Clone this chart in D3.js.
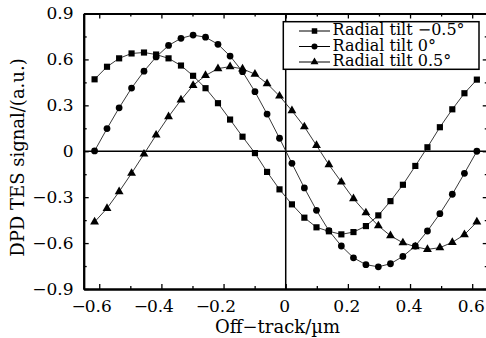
<!DOCTYPE html>
<html><head><meta charset="utf-8">
<script src="https://cdn.jsdelivr.net/npm/d3@7"></script>
<style>
html,body{margin:0;padding:0;background:#fff;}
svg{display:block;}
text{font-family:"DejaVu Serif",serif;fill:#000;}
</style></head>
<body><svg id="c" width="486" height="338"></svg>
<script>
// ---- data ----
const offTrack = [-0.615,-0.575,-0.536,-0.496,-0.456,-0.417,-0.377,-0.337,-0.298,-0.258,-0.218,-0.179,-0.139,-0.099,-0.060,-0.020,
                   0.020, 0.060, 0.099, 0.139, 0.179, 0.218, 0.258, 0.298, 0.337, 0.377, 0.417, 0.456, 0.496, 0.536, 0.575, 0.615];
const tiltNeg05 = [0.470,0.552,0.607,0.639,0.645,0.632,0.607,0.560,0.493,0.412,0.314,0.207,0.095,-0.012,-0.135,-0.249,
                   -0.347,-0.434,-0.497,-0.523,-0.543,-0.528,-0.489,-0.419,-0.326,-0.219,-0.096,0.026,0.157,0.274,0.379,0.468];
const tilt0 = [0.002,0.148,0.284,0.413,0.523,0.616,0.691,0.738,0.759,0.745,0.699,0.622,0.520,0.389,0.243,0.085,
               -0.079,-0.240,-0.386,-0.519,-0.619,-0.696,-0.741,-0.755,-0.735,-0.687,-0.619,-0.521,-0.408,-0.281,-0.144,0.000];
const tiltPos05 = [-0.462,-0.373,-0.264,-0.144,-0.018,0.106,0.226,0.335,0.430,0.495,0.540,0.553,0.538,0.504,0.442,0.361,
                   0.265,0.160,0.038,-0.088,-0.201,-0.310,-0.402,-0.487,-0.552,-0.598,-0.624,-0.641,-0.630,-0.595,-0.545,-0.462];
const seriesNames = ["Radial tilt \u22120.5\u00b0","Radial tilt 0\u00b0","Radial tilt 0.5\u00b0"];
const seriesSymbols = ["square","circle","triangle"];
const xTicks = [-0.6,-0.4,-0.2,0,0.2,0.4,0.6];
const xMinor = [-0.5,-0.3,-0.1,0.1,0.3,0.5];
const yTicks = [-0.9,-0.6,-0.3,0,0.3,0.6,0.9];
const yMinor = [-0.75,-0.45,-0.15,0.15,0.45,0.75];
const xTitle = "Off\u2212track/\u00b5m";
const yTitle = "DPD TES signal/(a.u.)";

// ---- layout ----
const svg = d3.select("#c");
const L = 83.7, T = 13.5, B = 289;
const x = d3.scaleLinear().domain([-0.65,0.65]).range([L, L + 1.3*310.8]);
const y = d3.scaleLinear().domain([-0.9,0.9]).range([B, T]);
const R = x(0.65);

const fmt = v => (v===0 ? "0" : d3.format(".1f")(v).replace("-","\u2212"));

// zero lines
svg.append("line").attr("x1",L).attr("x2",R).attr("y1",y(0)).attr("y2",y(0))
  .attr("stroke","#000").attr("stroke-width",1.5);
svg.append("line").attr("x1",x(0)).attr("x2",x(0)).attr("y1",T).attr("y2",B)
  .attr("stroke","#000").attr("stroke-width",1.5);

function styleAxis(g){
  g.select(".domain").attr("stroke","#000").attr("stroke-width",2);
  g.selectAll(".tick line").attr("stroke","#000").attr("stroke-width",1.3);
}
// minor ticks
svg.append("g").attr("transform",`translate(0,${B})`).call(d3.axisBottom(x).tickValues(xMinor).tickSize(-3).tickSizeOuter(0).tickFormat("")).call(styleAxis);
svg.append("g").attr("transform",`translate(0,${T})`).call(d3.axisTop(x).tickValues(xMinor).tickSize(-3).tickSizeOuter(0).tickFormat("")).call(styleAxis);
svg.append("g").attr("transform",`translate(${L},0)`).call(d3.axisLeft(y).tickValues(yMinor).tickSize(-3).tickSizeOuter(0).tickFormat("")).call(styleAxis);
svg.append("g").attr("transform",`translate(${R},0)`).call(d3.axisRight(y).tickValues(yMinor).tickSize(-3).tickSizeOuter(0).tickFormat("")).call(styleAxis);
// major
svg.append("g").attr("transform",`translate(0,${T})`).call(d3.axisTop(x).tickValues(xTicks).tickSize(-5).tickSizeOuter(0).tickFormat("")).call(styleAxis);
svg.append("g").attr("transform",`translate(${R},0)`).call(d3.axisRight(y).tickValues(yTicks).tickSize(-5).tickSizeOuter(0).tickFormat("")).call(styleAxis);
const gx = svg.append("g").attr("transform",`translate(0,${B})`)
  .call(d3.axisBottom(x).tickValues(xTicks).tickSize(-5).tickSizeOuter(0).tickPadding(11.2).tickFormat(d=>fmt(Math.abs(d))))
  .call(styleAxis);
gx.selectAll("text").attr("font-size",17).attr("font-family","DejaVu Serif").attr("dx",-1.5);
gx.selectAll(".tick").each(function(d){
  if(d<0){
    const t = d3.select(this).select("text");
    const w = t.node().getComputedTextLength();
    d3.select(this).append("text").attr("font-size",17).attr("font-family","DejaVu Serif")
      .attr("text-anchor","end").attr("x",-w/2-1.5+1).attr("y",t.attr("y")).attr("dy","0.71em").attr("fill","#000").text("\u2212");
  }
});
const gy = svg.append("g").attr("transform",`translate(${L},0)`)
  .call(d3.axisLeft(y).tickValues(yTicks).tickSize(-5).tickSizeOuter(0).tickPadding(10.2).tickFormat(fmt))
  .call(styleAxis);
gy.selectAll("text").attr("font-size",17).attr("font-family","DejaVu Serif");

// titles
svg.append("text").attr("x",277.5).attr("y",332.5).attr("text-anchor","middle").attr("font-size",18).text(xTitle);
svg.append("text").attr("transform","translate(24,157.5) rotate(-90)").attr("text-anchor","middle").attr("font-size",18).text(yTitle);

// series
const allSeries = [tiltNeg05, tilt0, tiltPos05];
const symMap = {square:d3.symbolSquare, circle:d3.symbolCircle, triangle:d3.symbolTriangle};
const symSize = {square:38, circle:36, triangle:34};
const line = d3.line().x(d=>x(d[0])).y(d=>y(d[1]));
allSeries.forEach(vals=>{
  const pts = offTrack.map((xv,i)=>[xv, vals[i]]);
  svg.append("path").attr("d",line(pts)).attr("fill","none").attr("stroke","#222").attr("stroke-width",0.9);
});
allSeries.forEach((vals,k)=>{
  const pts = offTrack.map((xv,i)=>[xv, vals[i]]);
  const s = d3.symbol().type(symMap[seriesSymbols[k]]).size(symSize[seriesSymbols[k]]);
  svg.append("g").selectAll("path").data(pts).join("path")
    .attr("transform",d=>`translate(${x(d[0])},${y(d[1])})`).attr("d",s).attr("fill","#000");
});

// legend
const lg = svg.append("g");
lg.append("rect").attr("x",283.3).attr("y",21.7).attr("width",195.7).attr("height",47.6)
  .attr("fill","#fff").attr("stroke","#000").attr("stroke-width",1.5);
const rowBase = [35,50.5,66];
seriesNames.forEach((name,k)=>{
  const cy = rowBase[k]-4;
  lg.append("line").attr("x1",299).attr("x2",330).attr("y1",cy).attr("y2",cy).attr("stroke","#000").attr("stroke-width",1);
  lg.append("path").attr("transform",`translate(314.5,${cy})`)
    .attr("d",d3.symbol().type(symMap[seriesSymbols[k]]).size(symSize[seriesSymbols[k]]*0.8)).attr("fill","#000");
  lg.append("text").attr("x",332.5).attr("y",rowBase[k]).attr("font-size",16).text(name);
});
</script></body></html>
